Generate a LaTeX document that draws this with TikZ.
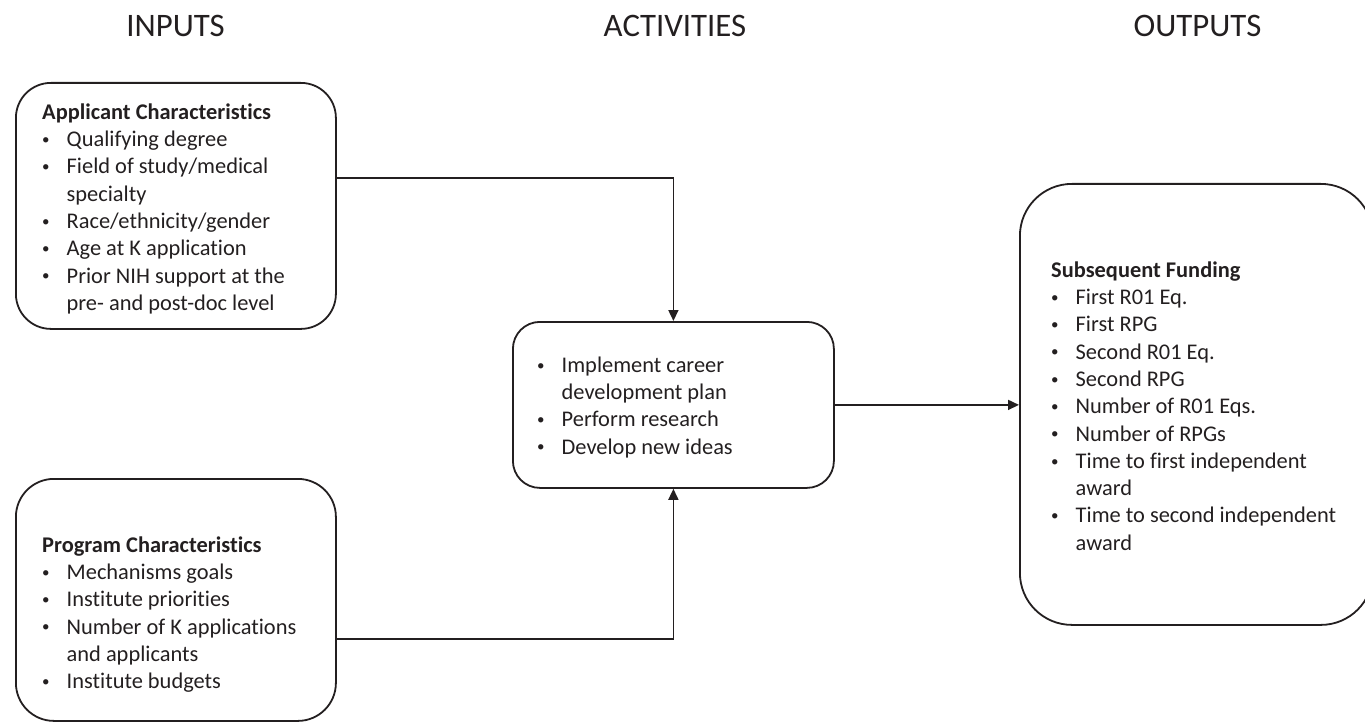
\documentclass[tikz,border=0pt]{standalone}
\usepackage{fontspec}
\setmainfont[Ligatures=NoCommon]{Carlito}
\usetikzlibrary{arrows.meta,positioning}
\definecolor{ink}{HTML}{231F20}
\newcommand{\bodyfont}{\fontsize{22.4}{27.3}\selectfont}
\newcommand{\headfont}{\fontsize{32.8}{39}\selectfont}
\newcommand{\itm}{\strut\makebox[24.5pt][l]{\raisebox{2.2pt}{\fontsize{15}{15}\selectfont\textbullet}}}
\newcommand{\cnt}{\strut\hspace*{24.5pt}}
\begin{document}
\begin{tikzpicture}[x=1pt,y=-1pt,
  box/.style={draw=ink,line width=1.8pt,rounded corners=#1,anchor=north west,inner sep=0pt},
  txt/.style={anchor=north west,inner sep=0pt,align=left,font=\bodyfont,text=ink},
  head/.style={anchor=base,font=\headfont,text=ink},
  arr/.style={draw=ink,line width=1.6pt,-{Triangle[length=11pt,width=10pt]}}]
\useasboundingbox (0,0) rectangle (1365,722);
%headings
\node[head] (inputs) at (175.5,37) {INPUTS};
\node[head] (activities) at (675,37) {ACTIVITIES};
\node[head] (outputs) at (1197.5,37) {OUTPUTS};
%boxes
\node[box=35pt,minimum width=320pt,minimum height=246pt] (appl) at (15,82) {};
\node[box=38pt,minimum width=320pt,minimum height=242pt] (prog) at (15,478) {};
\node[box=27pt,minimum width=321pt,minimum height=166pt] (actv) at (512,321) {};
\node[box=52pt,minimum width=353pt,minimum height=441pt] (outp) at (1019,183) {};
%texts
\node[txt] (appltxt) at (42,99.9) {\strut\textbf{Applicant Characteristics}\\
  \itm Qualifying degree\\
  \itm Field of study/medical\\
  \cnt specialty\\
  \itm Race/ethnicity/gender\\
  \itm Age at K application\\
  \itm Prior NIH support at the\\
  \cnt pre- and post-doc level};
\node[txt] (progtxt) at (42,532.9) {\strut\textbf{Program Characteristics}\\
  \itm Mechanisms goals\\
  \itm Institute priorities\\
  \itm Number of K applications\\
  \cnt and applicants\\
  \itm Institute budgets};
\node[txt] (actvtxt) at (537,352.9) {\itm Implement career\\
  \cnt development plan\\
  \itm Perform research\\
  \itm Develop new ideas};
\node[txt] (outptxt) at (1051,257.9) {\strut\textbf{Subsequent Funding}\\
  \itm First R01 Eq.\\
  \itm First RPG\\
  \itm Second R01 Eq.\\
  \itm Second RPG\\
  \itm Number of R01 Eqs.\\
  \itm Number of RPGs\\
  \itm Time to first independent\\
  \cnt award\\
  \itm Time to second independent\\
  \cnt award};
%arrows
\draw[arr] ([yshift=28pt]appl.east) -| (actv.north);
\draw[arr] ([yshift=-39pt]prog.east) -| (actv.south);
\draw[arr] (actv.east) -- (outp.west |- actv.east);
\end{tikzpicture}
\end{document}
